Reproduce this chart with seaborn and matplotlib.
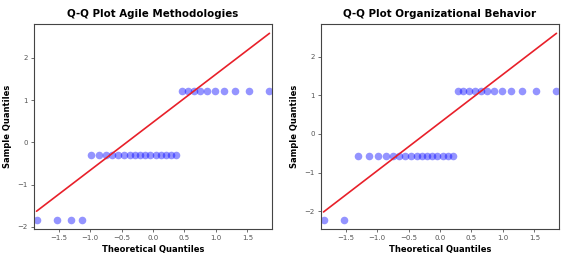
import seaborn as sns
import matplotlib.pyplot as plt
import numpy as np

# theoretical normal quantiles, 30 points each panel
theoretical = [-1.848, -1.518, -1.300, -1.131, -0.989, -0.865, -0.753, -0.649,
               -0.553, -0.461, -0.372, -0.287, -0.204, -0.122, -0.040,
               0.040, 0.122, 0.204, 0.287, 0.372, 0.461, 0.553, 0.649,
               0.753, 0.865, 0.989, 1.131, 1.300, 1.518, 1.848]

# sample quantiles (standardized scores)
agile_sample = [-1.83] * 4 + [-0.30] * 16 + [1.22] * 10
org_sample = [-2.22] * 2 + [-0.57] * 16 + [1.11] * 12

# reference lines
line_x = [-1.85, 1.85]
agile_line_y = [-1.63, 2.58]
org_line_y = [-2.02, 2.60]

titles = ['Q-Q Plot Agile Methodologies', 'Q-Q Plot Organizational Behavior']

sns.set_style('white')
plt.rcParams['font.family'] = ['DejaVu Sans']

fig = plt.figure(figsize=(5.67, 2.64), dpi=100)
ax1 = fig.add_axes([34/567, 1-229/264, 238/567, 205/264])
ax2 = fig.add_axes([321/567, 1-229/264, 238/567, 205/264])

for ax, samp, liney, title in [(ax1, agile_sample, agile_line_y, titles[0]),
                               (ax2, org_sample, org_line_y, titles[1])]:
    sns.scatterplot(x=theoretical, y=samp, ax=ax, color='blue', alpha=0.42,
                    s=30, linewidth=0)
    sns.lineplot(x=line_x, y=liney, ax=ax, color='#e8202a', linewidth=1.2)
    ax.set_xlim(-1.89, 1.89)
    ymin = min(min(samp), min(liney))
    ymax = max(max(samp), max(liney))
    pad = 0.05 * (ymax - ymin)
    ax.set_ylim(ymin - pad, ymax + pad)
    ax.set_xticks([-1.5, -1.0, -0.5, 0.0, 0.5, 1.0, 1.5])
    ax.set_yticks([-2, -1, 0, 1, 2])
    ax.tick_params(axis='both', labelsize=5, colors='#555555', length=2.5,
                   width=0.6, direction='out', bottom=True, left=True, pad=2)
    for sp in ax.spines.values():
        sp.set_color('#444444')
        sp.set_linewidth(0.8)
    ax.set_title(title, fontsize=7.4, fontweight='bold', pad=5, color='black')
    ax.set_xlabel('Theoretical Quantiles', fontsize=6, fontweight='bold',
                  labelpad=3, color='black')
    ax.set_ylabel('Sample Quantiles', fontsize=6, fontweight='bold',
                  labelpad=4, color='black')

plt.savefig('out.png', dpi=100)
